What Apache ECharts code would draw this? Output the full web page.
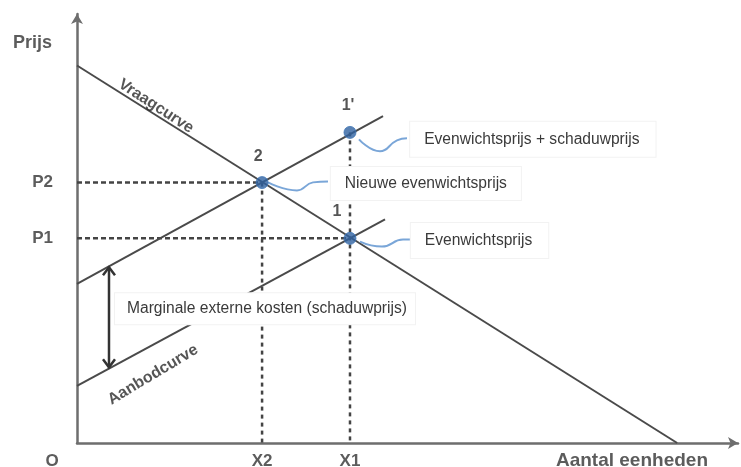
<!DOCTYPE html>
<html>
<head>
<meta charset="utf-8">
<script src="https://cdn.jsdelivr.net/npm/echarts@6/dist/echarts.min.js"></script>
<style>
html,body{margin:0;padding:0;background:#fff;}
#chart{width:741px;height:467px;}
</style>
</head>
<body>
<div id="chart"></div>
<script>
// ---- data (conceptual units, 0..100 on both axes) ----
const demandX = [0, 90.8];
const demandY = [88, 0];
const supplyX = [0, 46.6];
const supplyY = [13.3, 52.1];
const shiftedX = [0, 46.3];
const shiftedY = [37.1, 76.2];

const eqNames = ["1'", "2", "1"];
const eqX = [41.3, 28.0, 41.3];
const eqY = [72.4, 60.7, 47.7];

const priceTicks = ["P2", "P1"];
const priceVals = [60.7, 47.7];
const qtyTicks = ["X2", "X1"];
const qtyVals = [28.0, 41.3];

const mekX = 4.84;
const mekTop = 41.2;
const mekBottom = 17.4;

// callout waves (data coords)
const waveAX = [42.66, 45.84, 48.41, 49.92];
const waveAY = [70.79, 67.99, 70.56, 71.03];
const waveBX = [28.9, 33.28, 35.70, 37.97];
const waveBY = [60.75, 58.88, 60.75, 60.98];
const waveCX = [42.81, 46.14, 49.32, 51.13];
const waveCY = [46.96, 45.79, 47.43, 47.43];

const calloutTexts = ["Evenwichtsprijs + schaduwprijs", "Nieuwe evenwichtsprijs", "Evenwichtsprijs", "Marginale externe kosten (schaduwprijs)"];
const calloutX = [50.4, 38.4, 50.5, 5.75];
const calloutY = [70.8, 60.5, 47.2, 31.3];

const curveNames = ["Vraagcurve", "Aanbodcurve"];
const curveLabelX = [11.95, 11.5];
const curveLabelY = [78.5, 15.9];

const axisNameY = "Prijs";
const axisNameX = "Aantal eenheden";
const originLabel = "O";

// ---- helpers ----
const pairs = (xs, ys) => xs.map((x, i) => [x, ys[i]]);
const FONT = "'Liberation Sans', Arial, sans-serif";
const lineCol = '#4a4a4a';

function plainLine(data, extra) {
  return Object.assign({
    type: 'line', data: data, symbol: 'none', silent: true, animation: false,
    lineStyle: { color: lineCol, width: 2 }, z: 3
  }, extra || {});
}
function dashed(data, dash) {
  return plainLine(data, { lineStyle: { color: '#444', width: 2.5, type: dash }, z: 2 });
}
function wave(xs, ys) {
  return {
    type: 'line', data: pairs(xs, ys), smooth: 0.5, silent: true, animation: false,
    symbol: 'none', lineStyle: { color: '#7aa6d8', width: 2 }, z: 6
  };
}

const chart = echarts.init(document.getElementById('chart'), null, { renderer: 'canvas' });

const option = {
  backgroundColor: '#fff',
  animation: false,
  grid: { left: 77, right: 3, top: 14, bottom: 24 },
  xAxis: {
    type: 'value', min: 0, max: 100,
    axisLine: { show: true, lineStyle: { color: '#6e6e6e', width: 2.5 }, symbol: ['none', 'arrow'], symbolSize: [9, 10] },
    axisTick: { show: false }, axisLabel: { show: false }, splitLine: { show: false }
  },
  yAxis: {
    type: 'value', min: 0, max: 100,
    axisLine: { show: true, onZero: false, lineStyle: { color: '#6e6e6e', width: 2.5 }, symbol: ['none', 'arrow'], symbolSize: [9, 10] },
    axisTick: { show: false }, axisLabel: { show: false }, splitLine: { show: false }
  },
  series: [
    plainLine(pairs(demandX, demandY)),
    plainLine(pairs(supplyX, supplyY)),
    plainLine(pairs(shiftedX, shiftedY)),
    // guide lines
    dashed([[0, priceVals[0]], [qtyVals[0], priceVals[0]]], [5, 3]),
    dashed([[qtyVals[0], priceVals[0]], [qtyVals[0], 0]], [4, 4]),
    dashed([[0, priceVals[1]], [qtyVals[1], priceVals[1]]], [5, 3]),
    dashed([[qtyVals[1], eqY[0]], [qtyVals[1], 0]], [4, 4]),
    // MEK double arrow
    {
      type: 'custom', silent: true, animation: false, z: 4,
      data: [[mekX, mekTop, mekBottom]],
      renderItem: function (params, api) {
        const a = api.coord([api.value(0), api.value(1)]);
        const b = api.coord([api.value(0), api.value(2)]);
        const s = { stroke: '#333', lineWidth: 2.5, fill: null };
        return {
          type: 'group', children: [
            { type: 'line', shape: { x1: a[0], y1: a[1] + 1, x2: b[0], y2: b[1] - 1 }, style: s },
            { type: 'polyline', shape: { points: [[a[0] - 6, a[1] + 9], [a[0], a[1] + 1], [a[0] + 6, a[1] + 9]] }, style: s },
            { type: 'polyline', shape: { points: [[b[0] - 6, b[1] - 9], [b[0], b[1] - 1], [b[0] + 6, b[1] - 9]] }, style: s }
          ]
        };
      }
    },
    wave(waveAX, waveAY),
    wave(waveBX, waveBY),
    wave(waveCX, waveCY),
    // callout texts with white boxes (custom series so the boxes cover the lines)
    {
      type: 'custom', silent: true, animation: false, z: 20, clip: false,
      data: calloutTexts.map((t, i) => [calloutX[i], calloutY[i], i]),
      renderItem: function (params, api) {
        const p = api.coord([api.value(0), api.value(1)]);
        const i = api.value(2);
        const pad = i === 3 ? [8, 8, 7, 12] : (i === 1 ? [9, 14, 8, 14] : [10, 16, 9, 14]);
        return {
          type: 'text', x: p[0], y: p[1],
          style: {
            text: calloutTexts[i], fill: '#3a3a3a',
            fontFamily: FONT, fontSize: 15.6,
            align: 'left', verticalAlign: 'middle',
            backgroundColor: '#fff', borderColor: '#f2f2f2', borderWidth: 1,
            padding: pad
          }
        };
      }
    },
    // curve names (rotated)
    {
      type: 'scatter', silent: true, animation: false, clip: false, z: 7, symbolSize: 0,
      data: [
        { value: [curveLabelX[0], curveLabelY[0]], name: curveNames[0], label: { rotate: -33 } },
        { value: [curveLabelX[1], curveLabelY[1]], name: curveNames[1], label: { rotate: 31 } }
      ],
      label: {
        show: true, position: 'inside', formatter: '{b}',
        fontFamily: FONT, fontWeight: 'bold', fontSize: 16, color: '#2a2a2a'
      }
    },
    // equilibrium points
    {
      type: 'scatter', silent: true, animation: false, z: 30,
      symbolSize: 12,
      itemStyle: { color: '#2f62a0', borderColor: '#3f75b5', borderWidth: 1 },
      data: eqNames.map((n, i) => ({
        value: [eqX[i], eqY[i]], name: n,
        label: { offset: i === 2 ? [-13, 0] : (i === 0 ? [-2, 0] : [-4, 0]) }
      })),
      label: {
        show: true, position: 'top', distance: 12, formatter: '{b}',
        fontFamily: FONT, fontWeight: 'bold', fontSize: 16, color: '#2a2a2a'
      }
    },
    // axis tick labels
    {
      type: 'scatter', silent: true, animation: false, clip: false, z: 9, symbolSize: 0,
      data: priceTicks.map((t, i) => ({ value: [0, priceVals[i]], name: t })),
      label: {
        show: true, position: 'left', distance: 24, formatter: '{b}',
        fontFamily: FONT, fontWeight: 'bold', fontSize: 17, color: '#333'
      }
    },
    {
      type: 'scatter', silent: true, animation: false, clip: false, z: 9, symbolSize: 0,
      data: qtyTicks.map((t, i) => ({ value: [qtyVals[i], 0], name: t }))
        .concat([{ value: [0, 0], name: originLabel, label: { offset: [-25, 0] } }]),
      label: {
        show: true, position: 'bottom', distance: 10, formatter: '{b}',
        fontFamily: FONT, fontWeight: 'bold', fontSize: 17, color: '#333'
      }
    },
    {
      type: 'scatter', silent: true, animation: false, clip: false, z: 9, symbolSize: 0,
      data: [
        { value: [83.96, 0], name: axisNameX, label: { position: 'bottom', distance: 8, fontSize: 19 } },
        { value: [0, 93.2], name: axisNameY, label: { position: 'left', distance: 25, fontSize: 18 } }
      ],
      label: {
        show: true, formatter: '{b}',
        fontFamily: FONT, fontWeight: 'bold', color: '#333'
      }
    }
  ]
};
chart.setOption(option);
</script>
</body>
</html>
